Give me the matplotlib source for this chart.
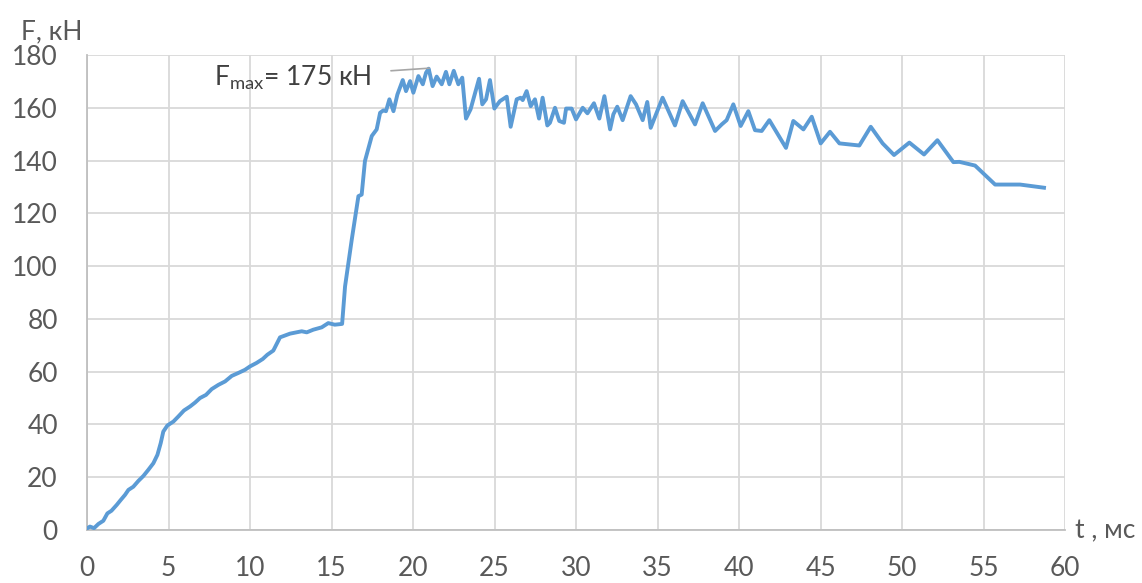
import matplotlib
matplotlib.use("Agg")
import matplotlib.pyplot as plt

plt.rcParams['font.family'] = ['Lato', 'DejaVu Sans']
plt.rcParams['mathtext.default'] = 'regular'

# time, ms
t_ms = [0.0, 0.18, 0.43, 0.7, 1.0, 1.25, 1.5, 1.82, 2.07, 2.33, 2.54, 2.84, 3.15,
        3.46, 3.76, 4.07, 4.32, 4.52, 4.68, 4.93, 5.3, 5.6, 5.95, 6.32, 6.63, 6.93,
        7.3, 7.65, 8.06, 8.47, 8.88, 9.28, 9.69, 10.0, 10.4, 10.78, 11.06, 11.43,
        11.64, 11.84, 12.45, 13.17, 13.48, 13.88, 14.4, 14.8, 15.2, 15.65, 15.83,
        16.24, 16.65, 16.85, 17.05, 17.47, 17.77, 17.98, 18.18, 18.34, 18.55, 18.8,
        19.04, 19.37, 19.57, 19.82, 20.02, 20.33, 20.6, 20.8, 20.96, 21.2, 21.45,
        21.76, 22.02, 22.23, 22.5, 22.78, 23.02, 23.25, 23.53, 24.05, 24.25, 24.48,
        24.72, 24.99, 25.33, 25.75, 25.99, 26.36, 26.6, 26.73, 26.97, 27.22, 27.48,
        27.73, 27.95, 28.24, 28.4, 28.71, 28.97, 29.26, 29.39, 29.73, 30.0, 30.41,
        30.7, 31.1, 31.43, 31.74, 32.09, 32.29, 32.53, 32.86, 33.35, 33.68, 34.09,
        34.37, 34.58, 35.31, 36.07, 36.54, 37.3, 37.77, 38.53, 38.94, 39.24, 39.65,
        40.1, 40.57, 40.98, 41.39, 41.86, 42.88, 43.33, 43.95, 44.46, 45.01, 45.58,
        46.16, 47.38, 48.08, 48.81, 49.51, 50.45, 51.35, 52.17, 53.15, 53.52, 54.48,
        55.71, 57.24, 58.71]
# force, kN
force_kn = [0.6, 1.3, 0.7, 2.3, 3.5, 6.3, 7.3, 9.5, 11.4, 13.3, 15.2, 16.4, 18.6,
            20.5, 22.8, 25.3, 28.5, 32.9, 37.3, 39.6, 41.1, 43.0, 45.3, 46.8, 48.3,
            50.0, 51.2, 53.4, 55.0, 56.3, 58.4, 59.5, 60.7, 62.0, 63.3, 64.8, 66.4,
            68.0, 70.6, 73.0, 74.4, 75.3, 74.9, 75.9, 76.8, 78.4, 77.8, 78.1, 92.3,
            110.0, 126.5, 127.1, 139.8, 149.3, 151.8, 158.1, 159.0, 158.7, 163.2,
            158.7, 165.0, 170.5, 166.3, 170.1, 165.7, 172.0, 168.9, 173.3, 174.8,
            168.2, 171.8, 168.9, 173.6, 168.9, 174.0, 168.9, 171.4, 155.9, 159.4,
            171.0, 161.3, 163.2, 170.5, 159.7, 162.5, 164.2, 152.8, 163.2, 163.8,
            162.9, 166.3, 160.6, 163.2, 155.9, 163.8, 153.3, 154.3, 160.0, 155.0,
            154.3, 159.7, 159.7, 155.6, 160.0, 157.9, 161.7, 155.9, 164.4, 151.8,
            157.5, 160.4, 155.3, 164.4, 161.3, 155.3, 162.2, 152.4, 163.8, 153.3,
            162.5, 153.7, 161.7, 151.2, 153.7, 155.3, 161.3, 153.1, 158.7, 151.5,
            151.2, 155.3, 144.8, 155.0, 151.8, 156.6, 146.5, 150.9, 146.5, 145.7,
            152.8, 146.5, 142.1, 146.8, 142.3, 147.7, 139.4, 139.5, 138.1, 130.9,
            130.9, 129.7]

x_ticks = list(range(0, 61, 5))
y_ticks = list(range(0, 181, 20))

text_col = '#595959'
fig = plt.figure(figsize=(11.42, 5.83), dpi=100)
ax = fig.add_axes([0.0762, 0.0909, 0.8564, 0.8148])

ax.plot(t_ms, force_kn, color='#5B9BD5', linewidth=2.8, solid_joinstyle='round', zorder=3)

ax.set_xlim(0, 60)
ax.set_ylim(0, 180)
ax.set_xticks(x_ticks)
ax.set_yticks(y_ticks)
ax.grid(True, color='#D9D9D9', linewidth=1.3)
ax.set_axisbelow(True)
for side in ['top', 'right']:
    ax.spines[side].set_visible(False)
for side in ['left', 'bottom']:
    ax.spines[side].set_color('#BFBFBF')
    ax.spines[side].set_linewidth(1.3)
ax.tick_params(length=0, labelsize=19, labelcolor=text_col)
ax.tick_params(axis='x', pad=19)
ax.tick_params(axis='y', pad=21)

fig.text(0.018, 0.945, 'F, кН', fontsize=19, color=text_col, va='center', ha='left')
fig.text(0.941, 0.09, 't , мс', fontsize=19, color=text_col, va='center', ha='left')

ax.annotate('F$_{max}$= 175 кН', xy=(21.0, 175.0), xytext=(7.8, 171.5),
            fontsize=19, color='#404040', va='center', ha='left',
            arrowprops=dict(arrowstyle='-', color='#A6A6A6', linewidth=1.2,
                            shrinkA=12, shrinkB=0))

fig.savefig('out.png', dpi=100)
